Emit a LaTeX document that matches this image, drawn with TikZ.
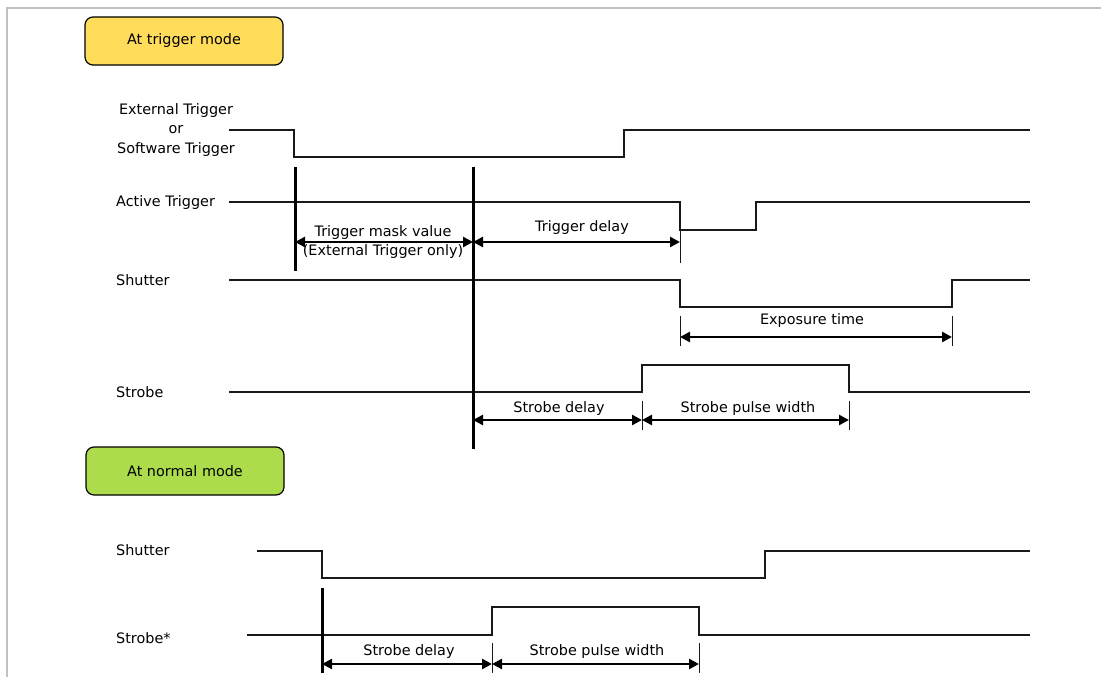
\documentclass[tikz,border=0pt]{standalone}
\usepackage{fontspec}
\setmainfont{DejaVu Sans}
\usetikzlibrary{arrows.meta}
\definecolor{sigc}{RGB}{25,25,25}
\definecolor{framec}{RGB}{192,192,192}
\definecolor{yellowc}{RGB}{255,221,90}
\definecolor{greenc}{RGB}{172,220,76}
\begin{document}
\begin{tikzpicture}[x=1pt,y=-1pt,
  sigline/.style={line width=1.5pt, draw=sigc, line join=miter},
  markline/.style={line width=3pt, draw=black},
  tickline/.style={line width=1pt, draw=sigc},
  dimarrow/.style={line width=2.8pt, draw=black,
    {Triangle[length=10pt,width=10pt]}-{Triangle[length=10pt,width=10pt]}},
  lbl/.style={font=\fontsize{14.4}{19.5}\selectfont, inner sep=0pt, text=black},
  modebox/.style={draw=black, line width=1.2pt, rounded corners=8pt,
    minimum width=198pt, minimum height=48pt, inner sep=0pt,
    font=\fontsize{14.4}{17}\selectfont},
]
\useasboundingbox (0,0) rectangle (1101,677);
\fill[white] (0,0) rectangle (1101,677);
% frame
\draw[framec, line width=2pt] (7,677) -- (7,8) -- (1101,8);

% mode boxes
\node[modebox, fill=yellowc] (trigmode) at (184,41) {At trigger mode};
\node[modebox, fill=greenc] (normmode) at (185,471) {At normal mode};

% signal names
\node[lbl, align=center] (extsw) at (176,130) {External Trigger\\or\\Software Trigger};
\node[lbl, anchor=west] (acttrig) at (116,203) {Active Trigger};
\node[lbl, anchor=west] (shut1) at (116,280) {Shutter};
\node[lbl, anchor=west] (strobe1) at (116,392) {Strobe};
\node[lbl, anchor=west] (shut2) at (116,550) {Shutter};
\node[lbl, anchor=west] (strobe2) at (116,638) {Strobe*};

% waveforms (trigger mode)
\draw[sigline] (229,130) -- (294,130) -- (294,157) -- (624,157) -- (624,130) -- (1030,130);
\draw[sigline] (229,202) -- (680,202) -- (680,230) -- (756,230) -- (756,202) -- (1030,202);
\draw[sigline] (229,280) -- (680,280) -- (680,307) -- (952,307) -- (952,280) -- (1030,280);
\draw[sigline] (229,392) -- (642,392) -- (642,365) -- (849,365) -- (849,392) -- (1030,392);

% waveforms (normal mode)
\draw[sigline] (257,551) -- (322,551) -- (322,578) -- (765,578) -- (765,551) -- (1030,551);
\draw[sigline] (247,635) -- (492,635) -- (492,607) -- (699,607) -- (699,635) -- (1030,635);

% thick markers
\coordinate (mA) at (295,242);
\coordinate (mB) at (473,242);
\coordinate (mB2) at (473,420);
\coordinate (mC) at (322,664);
\draw[markline] (295,167) -- (295,271);
\draw[markline] (473,167) -- (473,449);
\draw[markline] (322,588) -- (322,673);

% thin ticks
\draw[tickline] (680,230) -- (680,263);
\draw[tickline] (680,316) -- (680,346);
\draw[tickline] (952,316) -- (952,346);
\draw[tickline] (642,401) -- (642,430);
\draw[tickline] (849,401) -- (849,430);
\draw[tickline] (492,643) -- (492,673);
\draw[tickline] (699,643) -- (699,673);

% dimension end points
\coordinate (tdE) at (680,242);
\coordinate (exS) at (680,337);
\coordinate (exE) at (952,337);
\coordinate (sdE) at (642,420);
\coordinate (spE) at (849,420);
\coordinate (bsdE) at (492,664);
\coordinate (bspE) at (699,664);

% dimension arrows
\draw[dimarrow] (mA) -- (mB);
\draw[dimarrow] (mB) -- (tdE);
\draw[dimarrow] (exS) -- (exE);
\draw[dimarrow] (mB2) -- (sdE);
\draw[dimarrow] (sdE) -- (spE);
\draw[dimarrow] (mC) -- (bsdE);
\draw[dimarrow] (bsdE) -- (bspE);

% dimension labels
\node[lbl] (maskl) at (383,233) {Trigger mask value};
\node[lbl] (maskl2) at (383,252) {(External Trigger only)};
\node[lbl] (tdl) at (582,228) {Trigger delay};
\node[lbl] (exl) at (812,321) {Exposure time};
\node[lbl] (sdl) at (559,409) {Strobe delay};
\node[lbl] (spl) at (748,409) {Strobe pulse width};
\node[lbl] (bsdl) at (409,652) {Strobe delay};
\node[lbl] (bspl) at (597,652) {Strobe pulse width};
\end{tikzpicture}
\end{document}
